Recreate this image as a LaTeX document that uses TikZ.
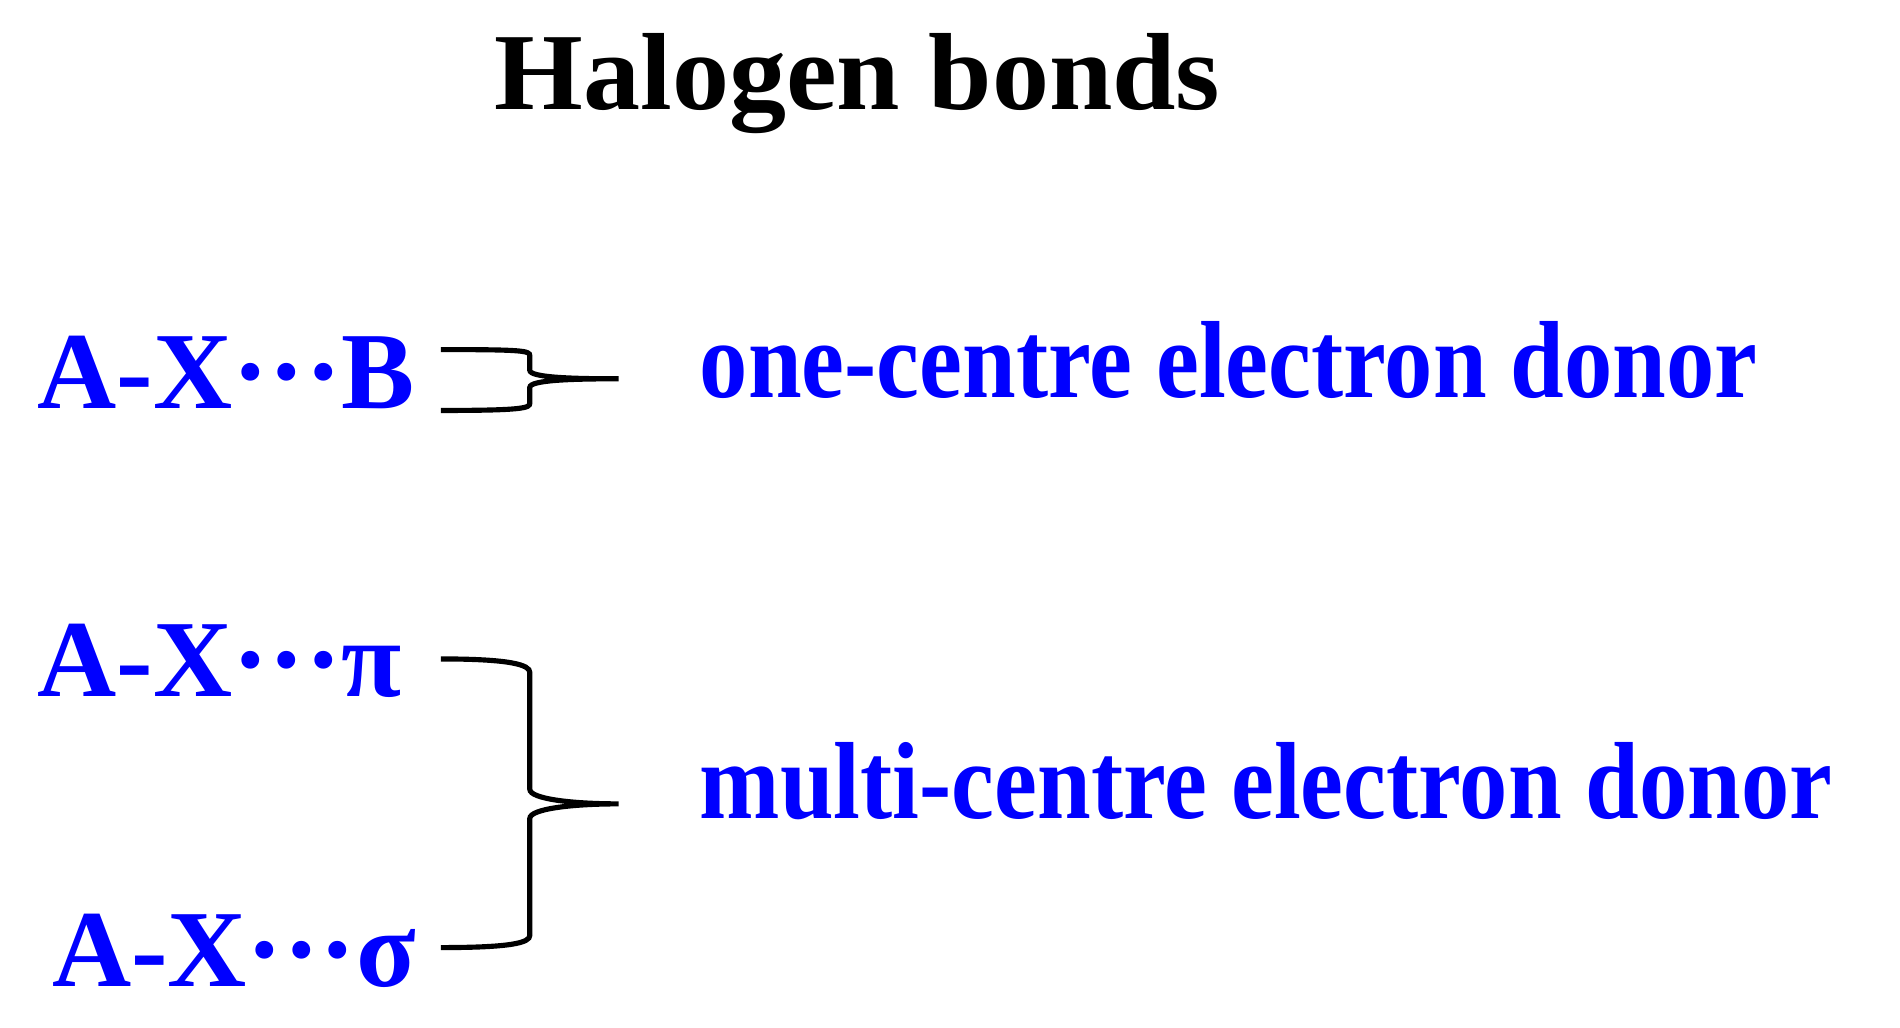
\documentclass[tikz,border=0pt]{standalone}
\usepackage{fontspec}
\setmainfont{Liberation Serif}
\begin{document}
\begin{tikzpicture}[x=0.01cm,y=-0.01cm,
  lab/.style={inner sep=0,text=blue,font=\fontsize{25.6}{30}\selectfont\bfseries},
  br/.style={line width=1.2pt,black}]
\useasboundingbox (0,0) rectangle (1560,844);
\node[inner sep=0,anchor=base,xscale=1.04,font=\fontsize{25.6}{30}\selectfont\bfseries] (t) at (704,90) {Halogen bonds};
\node[lab,anchor=base west] (b1) at (30,335) {A-X···B};
\node[lab,anchor=base west] (b2) at (30,572) {A-X···π};
\node[lab,anchor=base west] (b3) at (42,810) {A-X···σ};
\node[lab,anchor=base west,xscale=0.88] (r1) at (574,326) {one-centre electron donor};
\node[lab,anchor=base west,xscale=0.88] (r2) at (574,672) {multi-centre electron donor};
\draw[br] (362,287) .. controls (430,287) and (435,288) .. (435,292) -- (435,304)
  .. controls (435,310) and (470,311) .. (508,311)
  .. controls (470,311) and (435,312) .. (435,318) -- (435,331)
  .. controls (435,335) and (430,337) .. (362,337);
\draw[br] (362,541) .. controls (420,541) and (435,546) .. (435,552) -- (435,648)
  .. controls (435,656) and (470,660) .. (508,660)
  .. controls (470,660) and (435,664) .. (435,672) -- (435,768)
  .. controls (435,774) and (420,778) .. (362,778);
\end{tikzpicture}
\end{document}
